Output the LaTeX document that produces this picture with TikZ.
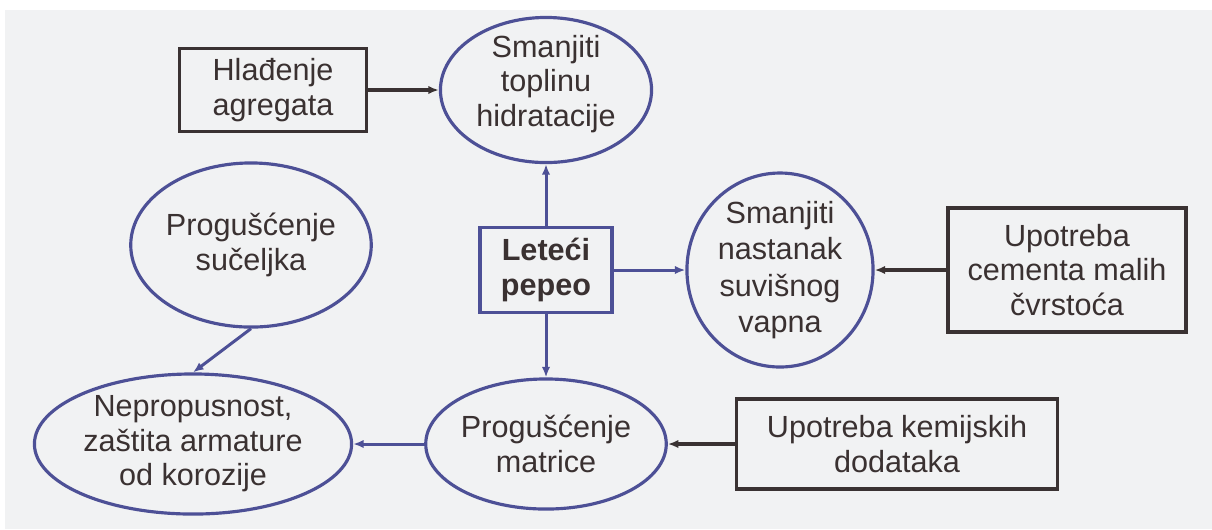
\documentclass[tikz,border=0pt]{standalone}
\usepackage{fontspec}
\setmainfont{Liberation Sans}
\usetikzlibrary{shapes.geometric,arrows.meta}
\definecolor{bluel}{HTML}{4D5096}
\definecolor{darkl}{HTML}{3A3232}
\definecolor{txt}{HTML}{3A3131}
\definecolor{paper}{HTML}{F1F2F3}
\begin{document}
\begin{tikzpicture}[x=0.01cm,y=-0.01cm,
  every node/.style={font=\fontsize{8.7}{9.8}\selectfont, text=txt, align=center},
  ell/.style={ellipse, draw=bluel, line width=0.9pt, inner sep=0pt},
  rbox/.style={rectangle, draw=darkl, line width=1pt, inner sep=0pt},
  bbox/.style={rectangle, draw=bluel, line width=1pt, inner sep=0pt},
  darr/.style={draw=darkl, line width=0.95pt, -{Latex[length=3pt,width=2.4pt]}},
  barr/.style={draw=bluel, line width=0.85pt, -{Latex[length=3pt,width=2.4pt]}}]
\useasboundingbox (0,0) rectangle (1212,529);
\fill[white] (0,0) rectangle (1212,529);
\fill[paper] (5,10) rectangle (1212,529);

\node[rbox, minimum width=1.87cm, minimum height=0.83cm] (hl) at (273,90) {Hlađenje\\agregata};
\node[ell, minimum width=2.11cm, minimum height=1.45cm] (st) at (546,90) {\\[-7pt]Smanjiti\\toplinu\\hidratacije};
\node[ell, minimum width=2.05cm, minimum height=1.64cm] (ps) at (251,245) {Progušćenje\\sučeljka};
\node[bbox, minimum width=1.32cm, minimum height=0.85cm, font=\fontsize{8.7}{9.8}\selectfont\bfseries] (lp) at (546,270) {Leteći\\pepeo};
\node[ell, minimum width=1.86cm, minimum height=1.92cm] (sn) at (780,270) {Smanjiti\\[0.5pt]nastanak\\[0.5pt]suvišnog\\[0.5pt]vapna};
\node[rbox, minimum width=2.38cm, minimum height=1.24cm] (uc) at (1067,270) {Upotreba\\cementa malih\\čvrstoća};
\node[ell, minimum width=3.17cm, minimum height=1.40cm] (np) at (193,444) {Nepropusnost,\\zaštita armature\\od korozije};
\node[ell, minimum width=2.36cm, minimum height=1.30cm] (pm) at (546,444) {Progušćenje\\matrice};
\node[rbox, minimum width=3.21cm, minimum height=0.90cm] (uk) at (897,444) {Upotreba kemijskih\\dodataka};

\draw[darr] (hl) -- (st);
\draw[barr] (lp) -- (st);
\draw[barr] (lp) -- (sn);
\draw[barr] (lp) -- (pm);
\draw[darr] (uc) -- (sn);
\draw[darr] (uk) -- (pm);
\draw[barr] (pm) -- (np);
\draw[barr] (ps.south) -- (np.north);
\end{tikzpicture}
\end{document}
